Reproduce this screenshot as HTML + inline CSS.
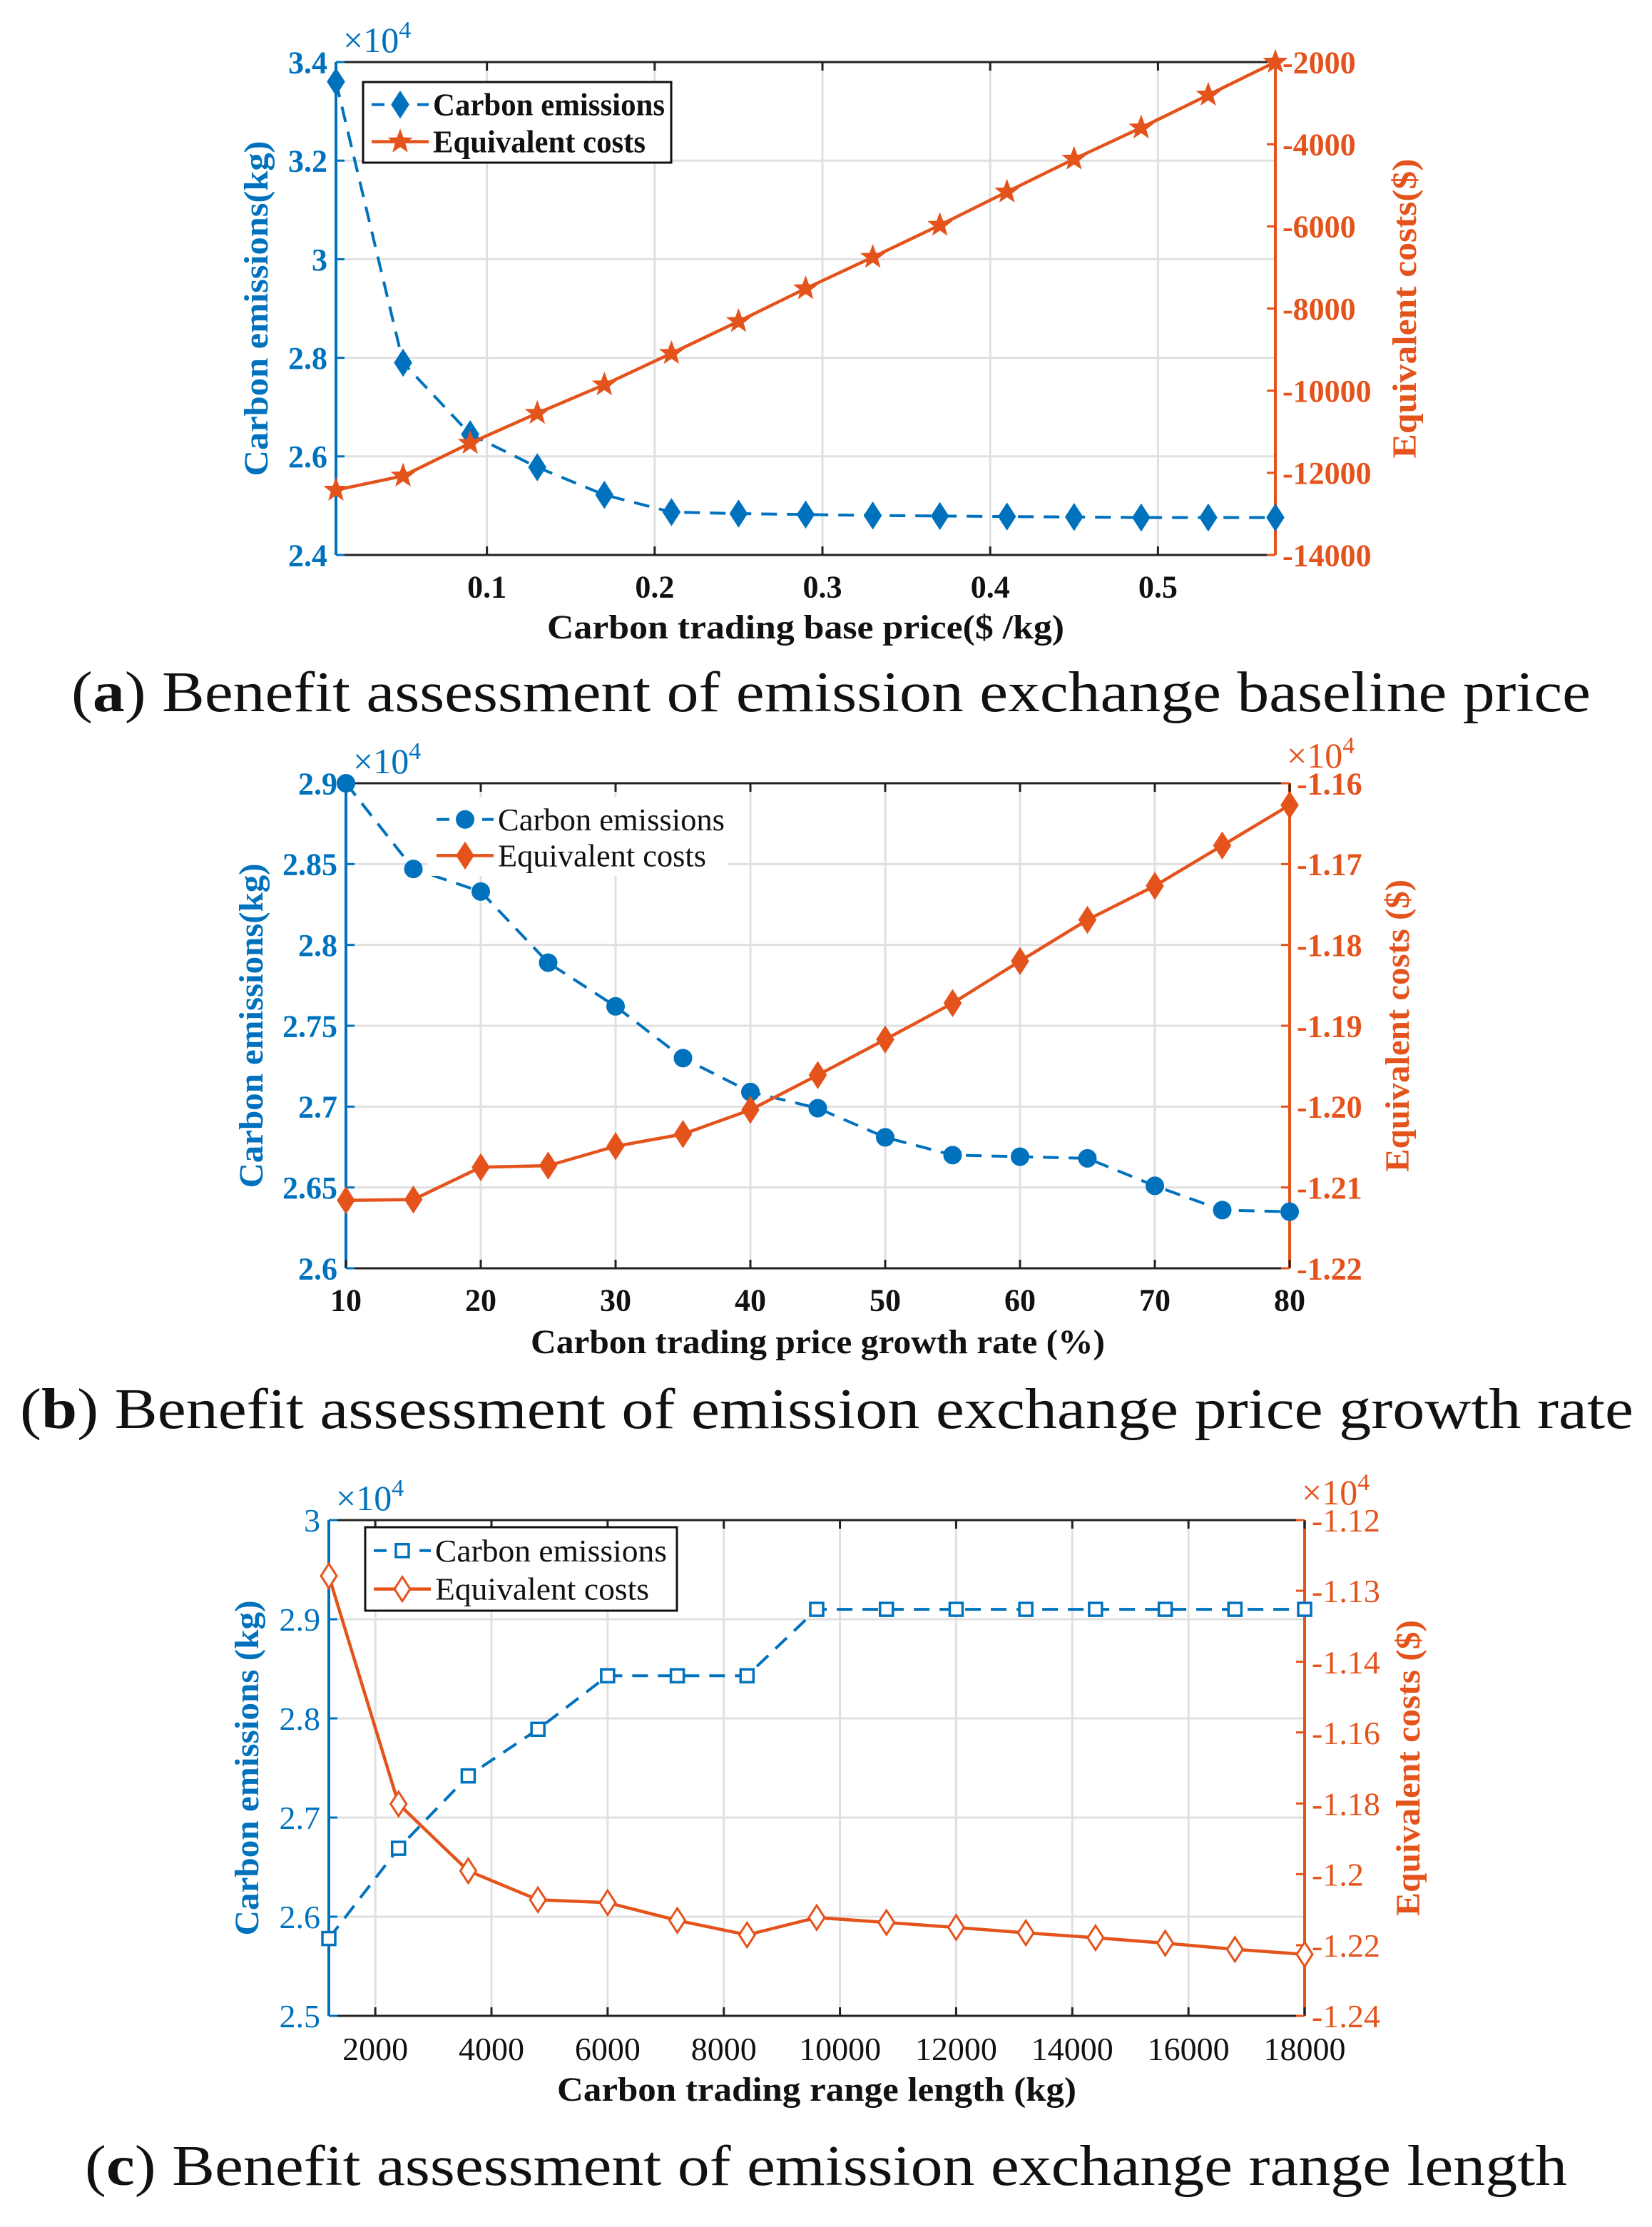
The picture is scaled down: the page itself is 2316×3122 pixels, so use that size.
<!DOCTYPE html>
<html><head><meta charset="utf-8"><style>
html,body{margin:0;padding:0;background:#fff;}
svg{display:block;}
</style></head><body>
<svg id="fig" width="2316" height="3122" viewBox="0 0 2316 3122" xmlns="http://www.w3.org/2000/svg"></svg>
<script>
// ---- Panel (a) data ----
const aX = [0.01,0.05,0.09,0.13,0.17,0.21,0.25,0.29,0.33,0.37,0.41,0.45,0.49,0.53,0.57];
const aEmis = [3.36,2.79,2.645,2.578,2.522,2.487,2.484,2.482,2.480,2.479,2.478,2.477,2.476,2.476,2.476];
const aCost = [-12420,-12075,-11277,-10549,-9855,-9090,-8312,-7514,-6750,-5970,-5160,-4360,-3600,-2800,-2000];
const aXTicks = [0.1,0.2,0.3,0.4,0.5];
const aXTickLabels = ["0.1","0.2","0.3","0.4","0.5"];
const aLTicks = [2.4,2.6,2.8,3.0,3.2,3.4];
const aLTickLabels = ["2.4","2.6","2.8","3","3.2","3.4"];
const aRTicks = [-14000,-12000,-10000,-8000,-6000,-4000,-2000];
const aRTickLabels = ["-14000","-12000","-10000","-8000","-6000","-4000","-2000"];
// ---- Panel (b) data ----
const bX = [10,15,20,25,30,35,40,45,50,55,60,65,70,75,80];
const bEmis = [2.900,2.847,2.833,2.789,2.762,2.730,2.709,2.699,2.681,2.670,2.669,2.668,2.651,2.636,2.635];
const bCost = [-1.2116,-1.2115,-1.2075,-1.2073,-1.2049,-1.2034,-1.2004,-1.1961,-1.1917,-1.1872,-1.1820,-1.1769,-1.1727,-1.1677,-1.1627];
const bXTicks = [10,20,30,40,50,60,70,80];
const bXTickLabels = ["10","20","30","40","50","60","70","80"];
const bLTicks = [2.6,2.65,2.7,2.75,2.8,2.85,2.9];
const bLTickLabels = ["2.6","2.65","2.7","2.75","2.8","2.85","2.9"];
const bRTicks = [-1.22,-1.21,-1.20,-1.19,-1.18,-1.17,-1.16];
const bRTickLabels = ["-1.22","-1.21","-1.20","-1.19","-1.18","-1.17","-1.16"];
// ---- Panel (c) data ----
const cX = [1200,2400,3600,4800,6000,7200,8400,9600,10800,12000,13200,14400,15600,16800,18000];
const cEmis = [2.578,2.669,2.742,2.789,2.843,2.843,2.843,2.910,2.910,2.910,2.910,2.910,2.910,2.910,2.910];
const cCost = [-1.1335,-1.1887,-1.2049,-1.2119,-1.2126,-1.2169,-1.2204,-1.2162,-1.2174,-1.2186,-1.2199,-1.2211,-1.2224,-1.2239,-1.2251];
const cXTicks = [2000,4000,6000,8000,10000,12000,14000,16000,18000];
const cXTickLabels = ["2000","4000","6000","8000","10000","12000","14000","16000","18000"];
const cLTicks = [2.5,2.6,2.7,2.8,2.9,3.0];
const cLTickLabels = ["2.5","2.6","2.7","2.8","2.9","3"];
const cRTicks = [-1.24,-1.2229,-1.2057,-1.1886,-1.1714,-1.1543,-1.1371,-1.12];
const cRTickLabels = ["-1.24","-1.22","-1.2","-1.18","-1.16","-1.14","-1.13","-1.12"];

const NS = "http://www.w3.org/2000/svg";
const svg = document.getElementById('fig');
const BLUE = "#0072BD", ORANGE = "#E4531B";
function mk(tag, attrs, parent){
  const e = document.createElementNS(NS, tag);
  for (const k in attrs) e.setAttribute(k, attrs[k]);
  (parent||svg).appendChild(e);
  return e;
}
function txt(s, x, y, opts, parent){
  const t = mk('text', Object.assign({x:x, y:y, 'font-family':'"Liberation Serif", serif'}, opts), parent);
  t.textContent = s;
  return t;
}
function marker(g, type, x, y, color, filled){
  let e;
  const fill = filled ? color : '#fff';
  if (type==='diamond'){
    e = mk('polygon',{points:`${x},${y-17} ${x+11},${y} ${x},${y+17} ${x-11},${y}`, fill:fill, stroke:color, 'stroke-width':3}, g);
  } else if (type==='circle'){
    e = mk('circle',{cx:x, cy:y, r:12, fill:fill, stroke:color, 'stroke-width':2}, g);
  } else if (type==='square'){
    e = mk('rect',{x:x-9, y:y-9, width:18, height:18, fill:'#fff', stroke:color, 'stroke-width':3.5}, g);
  } else if (type==='star'){
    let pts=[];
    for(let i=0;i<10;i++){const r = i%2?7:17; const a=-Math.PI/2+i*Math.PI/5; pts.push((x+r*Math.cos(a)).toFixed(1)+','+(y+r*Math.sin(a)).toFixed(1));}
    e = mk('polygon',{points:pts.join(' '), fill:color, stroke:color, 'stroke-width':1}, g);
  }
  return e;
}

function panel(cfg){
  const g = mk('g',{});
  
  
  const {L,R,T,B} = cfg;
  const sx = v => L + (v - cfg.xMin)/(cfg.xMax - cfg.xMin)*(R-L);
  const sl = v => B - (v - cfg.lMin)/(cfg.lMax - cfg.lMin)*(B-T);
  const sr = v => B - (v - cfg.rMin)/(cfg.rMax - cfg.rMin)*(B-T);
  const grid = mk('g',{stroke:'#e0e0e0','stroke-width':3}, g);
  
  
  cfg.xTicks.forEach(v=>mk('line',{x1:sx(v),x2:sx(v),y1:T,y2:B},grid));
  cfg.lTicks.forEach(v=>mk('line',{x1:L,x2:R,y1:sl(v),y2:sl(v)},grid));
  const top = mk('line',{x1:L,x2:R,y1:T,y2:T,stroke:'#222','stroke-width':3},g);
  
  
  const xa = mk('line',{x1:L,x2:R,y1:B,y2:B,stroke:'#222','stroke-width':3},g);
  
  
  const la = mk('line',{x1:L,x2:L,y1:T,y2:B,stroke:BLUE,'stroke-width':4},g);
  
  
  const ra = mk('line',{x1:R,x2:R,y1:T,y2:B,stroke:ORANGE,'stroke-width':4},g);
  
  
  const fw = cfg.tickBold ? 'bold' : 'normal';
  const ts = cfg.tickSize;
  cfg.xTicks.forEach((v,i)=>{
    mk('line',{x1:sx(v),x2:sx(v),y1:B,y2:B-12,stroke:'#222','stroke-width':3},g);
    mk('line',{x1:sx(v),x2:sx(v),y1:T,y2:T+12,stroke:'#222','stroke-width':3},g);
    const t = txt(cfg.xTickLabels[i], sx(v), B+ts*1.35, {'font-size':ts,'font-weight':fw,'text-anchor':'middle',fill:'#111'}, g);
    
    
  });
  cfg.lTicks.forEach((v,i)=>{
    mk('line',{x1:L,x2:L+12,y1:sl(v),y2:sl(v),stroke:BLUE,'stroke-width':3},g);
    const t = txt(cfg.lTickLabels[i], L-12, sl(v)+ts*0.35, {'font-size':ts,'font-weight':fw,'text-anchor':'end',fill:BLUE}, g);
    
    
  });
  cfg.rTicks.forEach((v,i)=>{
    mk('line',{x1:R,x2:R-12,y1:sr(v),y2:sr(v),stroke:ORANGE,'stroke-width':3},g);
    const t = txt(cfg.rTickLabels[i], R+10, sr(v)+ts*0.35, {'font-size':ts,'font-weight':fw,'text-anchor':'start',fill:ORANGE}, g);
    
    
  });
  if (cfg.lExp){
    const t = txt('×10', L+10, T-14, {'font-size':50,fill:BLUE}, g);
    mk('tspan',{dy:-20,'font-size':34},t).textContent='4';
    
    
  }
  if (cfg.rExp){
    const t = txt('×10', R-4, T-22, {'font-size':50,fill:ORANGE}, g);
    mk('tspan',{dy:-20,'font-size':34},t).textContent='4';
    
    
  }
  const xt = txt(cfg.xTitle, (L+R)/2, cfg.xTitleY, {'font-size':48,'font-weight':'bold','text-anchor':'middle',fill:'#111',textLength:cfg.xTitleLen,lengthAdjust:'spacingAndGlyphs'}, g);
  
  
  const cy = (T+B)/2;
  const lt = txt(cfg.lTitle, 0, 0, {'font-size':48,'font-weight':'bold','text-anchor':'middle',fill:BLUE,transform:`translate(${cfg.lTitleX},${cy}) rotate(-90)`,textLength:cfg.lTitleLen,lengthAdjust:'spacingAndGlyphs'}, g);
  
  
  const rt = txt(cfg.rTitle, 0, 0, {'font-size':48,'font-weight':'bold','text-anchor':'middle',fill:ORANGE,transform:`translate(${cfg.rTitleX},${cy}) rotate(-90)`,textLength:cfg.rTitleLen,lengthAdjust:'spacingAndGlyphs'}, g);
  
  
  const ep = cfg.x.map((v,i)=>sx(v).toFixed(1)+','+sl(cfg.emis[i]).toFixed(1)).join(' ');
  const el = mk('polyline',{points:ep,fill:'none',stroke:BLUE,'stroke-width':4,'stroke-dasharray':'22,14'},g);
  
  
  const cp = cfg.x.map((v,i)=>sx(v).toFixed(1)+','+sr(cfg.cost[i]).toFixed(1)).join(' ');
  const cl = mk('polyline',{points:cp,fill:'none',stroke:ORANGE,'stroke-width':4.5},g);
  
  
  cfg.x.forEach((v,i)=>{
    const m = marker(g, cfg.eMarker, sx(v), sl(cfg.emis[i]), BLUE, cfg.eFilled);
    
    
  });
  cfg.x.forEach((v,i)=>{
    const m = marker(g, cfg.cMarker, sx(v), sr(cfg.cost[i]), ORANGE, cfg.cFilled);
    
    
  });
  const lg = mk('g',{},g);
  
  
  const Lg = cfg.legend;
  if (Lg.box) mk('rect',{x:Lg.x,y:Lg.y,width:Lg.w,height:Lg.h,fill:'#fff',stroke:'#111','stroke-width':3},lg);
  else mk('rect',{x:Lg.x,y:Lg.y,width:Lg.w,height:Lg.h,fill:'#fff'},lg);
  const lx1 = Lg.x+12, lx2 = Lg.x+92, mx = Lg.x+52;
  const y1 = Lg.y+Lg.h*0.28, y2 = Lg.y+Lg.h*0.74;
  mk('line',{x1:lx1,x2:lx2,y1:y1,y2:y1,stroke:BLUE,'stroke-width':4,'stroke-dasharray':'18,14'},lg);
  marker(lg, cfg.eMarker, mx, y1, BLUE, cfg.eFilled);
  mk('line',{x1:lx1,x2:lx2,y1:y2,y2:y2,stroke:ORANGE,'stroke-width':4.5},lg);
  marker(lg, cfg.cMarker, mx, y2, ORANGE, cfg.cFilled);
  const lw = Lg.bold?'bold':'normal';
  const e1 = txt('Carbon emissions', lx2+6, y1+15, {'font-size':44,'font-weight':lw,fill:'#111',textLength:Lg.t1,lengthAdjust:'spacingAndGlyphs'}, lg);
  
  
  const e2 = txt('Equivalent costs', lx2+6, y2+15, {'font-size':44,'font-weight':lw,fill:'#111',textLength:Lg.t2,lengthAdjust:'spacingAndGlyphs'}, lg);
  
  
  const cap = txt('', cfg.capX, cfg.capY, {'font-size':80,fill:'#111',textLength:cfg.capLen,lengthAdjust:'spacingAndGlyphs'}, g);
  
  
  cap.appendChild(document.createTextNode('('));
  const b = mk('tspan',{'font-weight':'bold'},cap); b.textContent = cfg.capLetter;
  cap.appendChild(document.createTextNode(') '+cfg.capText));
}

panel({name:'panel-a', L:471,R:1788,T:87,B:778, xMin:0.01,xMax:0.57, lMin:2.4,lMax:3.4, rMin:-14000,rMax:-2000,
  x:aX, emis:aEmis, cost:aCost, xTicks:aXTicks, xTickLabels:aXTickLabels, lTicks:aLTicks, lTickLabels:aLTickLabels,
  rTicks:aRTicks, rTickLabels:aRTickLabels, tickBold:true, tickSize:44, lExp:true, rExp:false,
  xTitle:'Carbon trading base price($ /kg)', xTitleY:895, xTitleLen:725,
  lTitle:'Carbon emissions(kg)', lTitleX:375, lTitleLen:470,
  rTitle:'Equivalent costs($)', rTitleX:1985, rTitleLen:420,
  eMarker:'diamond', eFilled:true, cMarker:'star', cFilled:true,
  legend:{x:509,y:115,w:432,h:113,box:true,bold:true,t1:325,t2:298},
  capX:100, capY:997, capLen:2130, capLetter:'a', capText:'Benefit assessment of emission exchange baseline price'});

panel({name:'panel-b', L:485,R:1808,T:1098,B:1778, xMin:10,xMax:80, lMin:2.6,lMax:2.9, rMin:-1.22,rMax:-1.16,
  x:bX, emis:bEmis, cost:bCost, xTicks:bXTicks, xTickLabels:bXTickLabels, lTicks:bLTicks, lTickLabels:bLTickLabels,
  rTicks:bRTicks, rTickLabels:bRTickLabels, tickBold:true, tickSize:44, lExp:true, rExp:true,
  xTitle:'Carbon trading price growth rate (%)', xTitleY:1897, xTitleLen:805,
  lTitle:'Carbon emissions(kg)', lTitleX:368, lTitleLen:455,
  rTitle:'Equivalent costs ($)', rTitleX:1975, rTitleLen:410,
  eMarker:'circle', eFilled:true, cMarker:'diamond', cFilled:true,
  legend:{x:600,y:1118,w:420,h:110,box:false,bold:false,t1:318,t2:292},
  capX:28, capY:2002, capLen:2262, capLetter:'b', capText:'Benefit assessment of emission exchange price growth rate'});

panel({name:'panel-c', L:461,R:1829,T:2131,B:2826, xMin:1200,xMax:18000, lMin:2.5,lMax:3.0, rMin:-1.24,rMax:-1.12,
  x:cX, emis:cEmis, cost:cCost, xTicks:cXTicks, xTickLabels:cXTickLabels, lTicks:cLTicks, lTickLabels:cLTickLabels,
  rTicks:cRTicks, rTickLabels:cRTickLabels, tickBold:false, tickSize:46, lExp:true, rExp:true,
  xTitle:'Carbon trading range length (kg)', xTitleY:2945, xTitleLen:728,
  lTitle:'Carbon emissions (kg)', lTitleX:362, lTitleLen:470,
  rTitle:'Equivalent costs ($)', rTitleX:1990, rTitleLen:415,
  eMarker:'square', eFilled:false, cMarker:'diamond', cFilled:false,
  legend:{x:512,y:2141,w:437,h:117,box:true,bold:false,t1:325,t2:300},
  capX:119, capY:3063, capLen:2078, capLetter:'c', capText:'Benefit assessment of emission exchange range length'});
</script>
</body></html>
